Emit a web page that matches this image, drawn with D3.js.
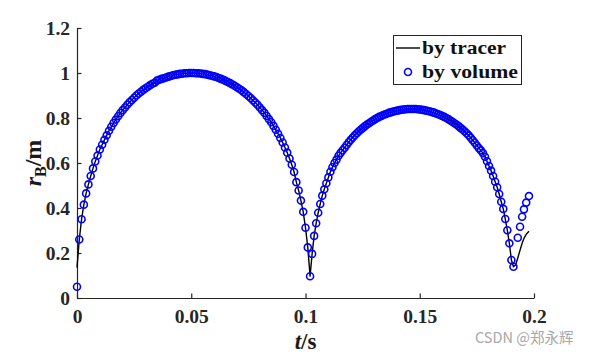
<!DOCTYPE html>
<html><head><meta charset="utf-8">
<script src="https://cdn.jsdelivr.net/npm/d3@7"></script>
<style>html,body{margin:0;padding:0;background:#fff;overflow:hidden;} svg{display:block;}</style>
</head><body>
<script>
const xTicks = [0, 0.05, 0.1, 0.15, 0.2];
const yTicks = [0, 0.2, 0.4, 0.6, 0.8, 1, 1.2];
const legendLabels = ["by tracer", "by volume"];

const volumeTime = [
0,0.001,0.002,0.003,0.004,0.005,0.006,0.007,0.008,0.009,
0.01,0.011,0.012,0.013,0.014,0.015,0.016,0.017,0.018,0.019,
0.02,0.021,0.022,0.023,0.024,0.025,0.026,0.027,0.028,0.029,
0.03,0.031,0.032,0.033,0.034,0.035,0.036,0.037,0.038,0.039,
0.04,0.041,0.042,0.043,0.044,0.045,0.046,0.047,0.048,0.049,
0.05,0.051,0.052,0.053,0.054,0.055,0.056,0.057,0.058,0.059,
0.06,0.061,0.062,0.063,0.064,0.065,0.066,0.067,0.068,0.069,
0.07,0.071,0.072,0.073,0.074,0.075,0.076,0.077,0.078,0.079,
0.08,0.081,0.082,0.083,0.084,0.085,0.086,0.087,0.088,0.089,
0.09,0.091,0.092,0.093,0.094,0.095,0.096,0.097,0.098,0.099,
0.1,0.101,0.102,
0.10289,0.10378,0.10467,0.10556,0.10645,0.10734,0.10823,0.10912,0.11001,0.1109,
0.11179,0.11268,0.11357,0.11446,0.11535,0.11624,0.11713,0.11802,0.11891,0.1198,
0.12069,0.12158,0.12247,0.12336,0.12425,0.12514,0.12603,0.12692,0.12781,0.1287,
0.12959,0.13048,0.13137,0.13226,0.13315,0.13404,0.13493,0.13582,0.13671,0.1376,
0.13849,0.13938,0.14027,0.14116,0.14205,0.14294,0.14383,0.14472,0.14561,0.1465,
0.14739,0.14828,0.14917,0.15006,0.15095,0.15184,0.15273,0.15362,0.15451,0.1554,
0.15629,0.15718,0.15807,0.15896,0.15985,0.16074,0.16163,0.16252,0.16341,0.1643,
0.16519,0.16608,0.16697,0.16786,0.16875,0.16964,0.17053,0.17142,0.17231,0.1732,
0.17409,0.17498,0.17587,0.17676,0.17765,0.17854,0.17943,0.18032,0.18121,0.1821,
0.18299,0.18388,0.18477,0.18566,0.18655,0.18744,0.18833,0.18922,0.19011,0.191,
0.1929,0.1939,0.1948,0.1956,0.1966,0.1978
];
const volumeR = [
0.05,0.26,0.35,0.415,0.465,0.505,0.542,0.576,0.607,0.633,
0.66,0.681,0.703,0.723,0.743,0.761,0.778,0.793,0.808,0.822,
0.835,0.847,0.859,0.87,0.88,0.89,0.9,0.909,0.917,0.925,
0.932,0.939,0.946,0.952,0.957,0.966,0.97,0.974,0.977,0.98,
0.984,0.987,0.99,0.992,0.994,0.996,0.997,0.999,0.999,1.0,
1.0,1.0,0.999,0.999,0.998,0.996,0.995,0.993,0.99,0.988,
0.985,0.982,0.978,0.974,0.97,0.965,0.96,0.955,0.949,0.943,
0.937,0.93,0.923,0.915,0.907,0.898,0.889,0.879,0.869,0.859,
0.847,0.835,0.823,0.809,0.795,0.781,0.765,0.748,0.73,0.711,
0.691,0.669,0.646,0.62,0.592,0.56,0.515,0.478,0.433,0.383,
0.312,0.225,0.097,
0.196,0.276,0.332,0.379,0.418,0.455,0.483,0.51,0.536,0.561,
0.581,0.6,0.615,0.632,0.645,0.657,0.668,0.68,0.692,0.703,
0.713,0.723,0.732,0.741,0.749,0.756,0.764,0.771,0.777,0.783,
0.789,0.795,0.8,0.805,0.809,0.813,0.817,0.82,0.824,0.826,
0.829,0.831,0.833,0.835,0.837,0.838,0.839,0.84,0.84,0.84,
0.84,0.84,0.839,0.838,0.837,0.835,0.833,0.831,0.829,0.826,
0.824,0.82,0.817,0.813,0.809,0.805,0.8,0.795,0.789,0.783,
0.777,0.771,0.764,0.756,0.749,0.741,0.732,0.723,0.712,0.701,
0.69,0.678,0.666,0.656,0.644,0.628,0.608,0.587,0.566,0.542,
0.517,0.492,0.462,0.428,0.396,0.351,0.301,0.243,0.169,0.139,
0.268,0.317,0.361,0.394,0.424,0.453
];

const tracerTime = [
0,0.001,0.002,0.003,0.004,0.005,0.006,0.007,0.008,0.009,
0.01,0.011,0.012,0.013,0.014,0.015,0.016,0.017,0.018,0.019,
0.02,0.021,0.022,0.023,0.024,0.025,0.026,0.027,0.028,0.029,
0.03,0.031,0.032,0.033,0.034,0.035,0.036,0.037,0.038,0.039,
0.04,0.041,0.042,0.043,0.044,0.045,0.046,0.047,0.048,0.049,
0.05,0.051,0.052,0.053,0.054,0.055,0.056,0.057,0.058,0.059,
0.06,0.061,0.062,0.063,0.064,0.065,0.066,0.067,0.068,0.069,
0.07,0.071,0.072,0.073,0.074,0.075,0.076,0.077,0.078,0.079,
0.08,0.081,0.082,0.083,0.084,0.085,0.086,0.087,0.088,0.089,
0.09,0.091,0.092,0.093,0.094,0.095,0.096,0.097,0.098,0.099,
0.1,0.101,0.102,
0.10289,0.10378,0.10467,0.10556,0.10645,0.10734,0.10823,0.10912,0.11001,0.1109,
0.11179,0.11268,0.11357,0.11446,0.11535,0.11624,0.11713,0.11802,0.11891,0.1198,
0.12069,0.12158,0.12247,0.12336,0.12425,0.12514,0.12603,0.12692,0.12781,0.1287,
0.12959,0.13048,0.13137,0.13226,0.13315,0.13404,0.13493,0.13582,0.13671,0.1376,
0.13849,0.13938,0.14027,0.14116,0.14205,0.14294,0.14383,0.14472,0.14561,0.1465,
0.14739,0.14828,0.14917,0.15006,0.15095,0.15184,0.15273,0.15362,0.15451,0.1554,
0.15629,0.15718,0.15807,0.15896,0.15985,0.16074,0.16163,0.16252,0.16341,0.1643,
0.16519,0.16608,0.16697,0.16786,0.16875,0.16964,0.17053,0.17142,0.17231,0.1732,
0.17409,0.17498,0.17587,0.17676,0.17765,0.17854,0.17943,0.18032,0.18121,0.1821,
0.18299,0.18388,0.18477,0.18566,0.18655,0.18744,0.18833,0.18922,0.19011,0.191,
0.192,0.1929,0.1939,0.1948,0.1956,0.1966,0.1978
];
const tracerR = [
0.135,0.26,0.35,0.415,0.465,0.505,0.542,0.576,0.607,0.633,
0.66,0.681,0.703,0.723,0.743,0.761,0.778,0.793,0.808,0.822,
0.835,0.847,0.859,0.87,0.88,0.89,0.9,0.909,0.917,0.925,
0.932,0.939,0.946,0.952,0.957,0.966,0.97,0.974,0.977,0.98,
0.984,0.987,0.99,0.992,0.994,0.996,0.997,0.999,0.999,1.0,
1.0,1.0,0.999,0.999,0.998,0.996,0.995,0.993,0.99,0.988,
0.985,0.982,0.978,0.974,0.97,0.965,0.96,0.955,0.949,0.943,
0.937,0.93,0.923,0.915,0.907,0.898,0.889,0.879,0.869,0.859,
0.847,0.835,0.823,0.809,0.795,0.781,0.765,0.748,0.73,0.711,
0.691,0.669,0.646,0.62,0.592,0.56,0.515,0.478,0.433,0.383,
0.312,0.225,0.097,
0.196,0.276,0.332,0.379,0.418,0.455,0.483,0.51,0.536,0.561,
0.581,0.6,0.615,0.632,0.645,0.657,0.668,0.68,0.692,0.703,
0.713,0.723,0.732,0.741,0.749,0.756,0.764,0.771,0.777,0.783,
0.789,0.795,0.8,0.805,0.809,0.813,0.817,0.82,0.824,0.826,
0.829,0.831,0.833,0.835,0.837,0.838,0.839,0.84,0.84,0.84,
0.84,0.84,0.839,0.838,0.837,0.835,0.833,0.831,0.829,0.826,
0.824,0.82,0.817,0.813,0.809,0.805,0.8,0.795,0.789,0.783,
0.777,0.771,0.764,0.756,0.749,0.741,0.732,0.723,0.712,0.701,
0.69,0.678,0.666,0.656,0.644,0.628,0.608,0.587,0.566,0.542,
0.517,0.492,0.462,0.428,0.396,0.351,0.301,0.243,0.169,0.139,
0.148,0.178,0.213,0.243,0.265,0.283,0.297
];

const W = 590, H = 354;
const plot = {left: 77, right: 534, top: 28, bottom: 298};
const axisColor = "#262626";
const serif = "'Liberation Serif','Times New Roman',serif";

const svg = d3.select("body").append("svg").attr("width", W).attr("height", H);

const x = d3.scaleLinear().domain([0, 0.2]).range([plot.left, plot.right]);
const y = d3.scaleLinear().domain([0, 1.2]).range([plot.bottom, plot.top]);

// axes (MATLAB style: ticks inside, box off)
const xAxis = d3.axisBottom(x).tickValues(xTicks).tickFormat(d => String(d)).tickSizeInner(-4.5).tickSizeOuter(0).tickPadding(14);
const yAxis = d3.axisLeft(y).tickValues(yTicks).tickFormat(d => String(d)).tickSizeInner(-4.5).tickSizeOuter(0).tickPadding(10);

const gx = svg.append("g").attr("transform", `translate(0,${plot.bottom})`).call(xAxis);
const gy = svg.append("g").attr("transform", `translate(${plot.left},0)`).call(yAxis);
[gx, gy].forEach(g => {
  g.select(".domain").attr("stroke", axisColor).attr("stroke-width", 1.2);
  g.selectAll(".tick line").attr("stroke", axisColor).attr("stroke-width", 1.2);
  g.selectAll(".tick text").attr("fill", axisColor)
    .style("font-family", serif).style("font-weight", "bold").style("font-size", "19.5px");
});
gx.selectAll(".tick text").attr("dy", "0.71em").attr("y", 11);
gy.selectAll(".tick text").attr("x", -7).attr("dy", "0.34em");

// tracer line
const line = d3.line().x(d => x(d[0])).y(d => y(d[1]));
const tracerData = tracerTime.map((t, i) => [t, tracerR[i]]);
svg.append("path").datum(tracerData).attr("d", line)
  .attr("fill", "none").attr("stroke", "#000").attr("stroke-width", 1.4).attr("stroke-linejoin", "round");

// volume markers
const volumeData = volumeTime.map((t, i) => [t, volumeR[i]]);
svg.append("g").selectAll("circle").data(volumeData).join("circle")
  .attr("cx", d => x(d[0])).attr("cy", d => y(d[1])).attr("r", 3.5)
  .attr("fill", "none").attr("stroke", "#0000ff").attr("stroke-width", 1.6);

// axis titles
const xt = svg.append("text").attr("x", (plot.left + plot.right) / 2).attr("y", 349)
  .attr("text-anchor", "middle").style("font-family", serif).style("font-size", "23px")
  .style("font-weight", "bold").attr("fill", "#1a1a1a");
xt.append("tspan").style("font-style", "italic").text("t");
xt.append("tspan").text("/s");

const yt = svg.append("text").attr("transform", `translate(41,${(plot.top + plot.bottom) / 2}) rotate(-90)`)
  .attr("text-anchor", "middle").style("font-family", serif).style("font-size", "24px")
  .style("font-weight", "bold").attr("fill", "#1a1a1a");
yt.append("tspan").style("font-style", "italic").text("r");
yt.append("tspan").attr("dy", 5).style("font-size", "16px").text("B");
yt.append("tspan").attr("dy", -5).text("/m");

// legend
const lg = svg.append("g");
lg.append("rect").attr("x", 393.5).attr("y", 35.5).attr("width", 128).attr("height", 49)
  .attr("fill", "#fff").attr("stroke", axisColor).attr("stroke-width", 1);
lg.append("line").attr("x1", 396).attr("x2", 420).attr("y1", 48).attr("y2", 48)
  .attr("stroke", "#000").attr("stroke-width", 1.4);
lg.append("circle").attr("cx", 408).attr("cy", 72).attr("r", 3.5)
  .attr("fill", "none").attr("stroke", "#0000ff").attr("stroke-width", 1.6);
const lw = [84, 96];
legendLabels.forEach((s, i) => {
  lg.append("text").attr("x", 422).attr("y", 54 + i * 23.5)
    .attr("textLength", lw[i]).attr("lengthAdjust", "spacingAndGlyphs")
    .style("font-family", serif).style("font-size", "18.5px").style("font-weight", "bold").attr("fill", "#111").text(s);
});

// watermark
svg.append("text").attr("x", 475).attr("y", 343)
  .style("font-family", "'Noto Sans CJK SC','Noto Sans',sans-serif").style("font-size", "14.5px")
  .attr("fill", "#a8a8a8").text("CSDN @郑永辉");
</script>
</body></html>
